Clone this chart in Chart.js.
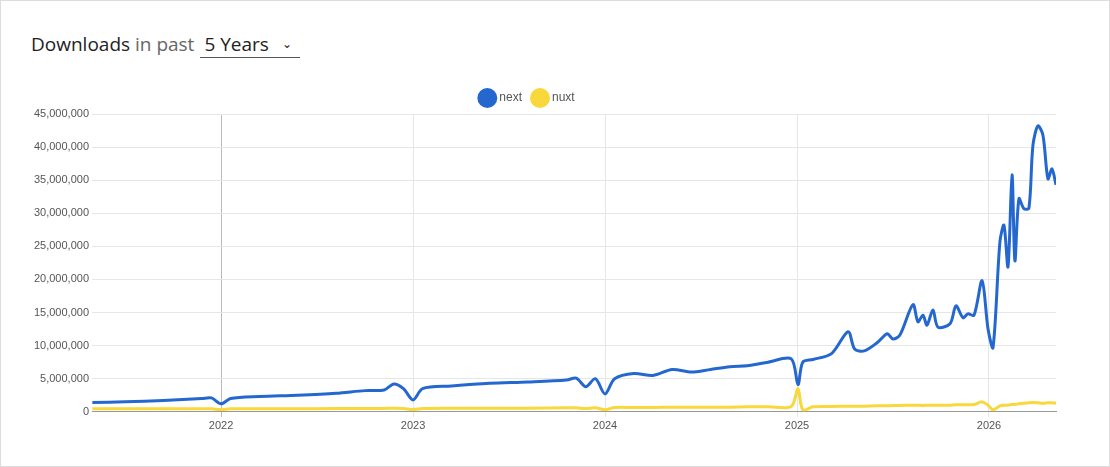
<!DOCTYPE html>
<html><head><meta charset="utf-8">
<script src="https://cdn.jsdelivr.net/npm/chart.js@4"></script>
<style>
body{margin:0;background:#fff;font-family:"Segoe UI","Open Sans",sans-serif;}
#frame{position:absolute;left:0;top:0;width:1108px;height:465px;border:1px solid #ddd;}
#title{position:absolute;left:31px;top:31px;font-size:19px;color:#222;}
#title .muted{color:#666;}
#sel{display:inline-block;margin-left:6px;width:96px;border-bottom:1px solid #555;padding-left:4px;}
#sel span{float:right;font-size:12px;margin-right:8px;margin-top:4px;}
#wrap{position:absolute;left:0;top:80px;width:1110px;height:362px;}
</style></head><body>
<div id="frame"></div>
<div id="title">Downloads <span class="muted">in past</span><span id="sel">5 Years<span>&#8964;</span></span></div>
<div id="wrap"><canvas id="c"></canvas></div>
<script>
const xYears = [2021.33,2021.5,2021.7,2021.9,2021.95,2022.0,2022.05,2022.2,2022.4,2022.6,
 2022.75,2022.85,2022.9,2022.95,2023.0,2023.05,2023.2,2023.4,2023.6,2023.8,
 2023.85,2023.9,2023.95,2024.0,2024.05,2024.15,2024.25,2024.35,2024.45,2024.55,
 2024.65,2024.75,2024.85,2024.97,2025.005,2025.03,2025.083,2025.18,2025.266,2025.3,
 2025.35,2025.42,2025.47,2025.5,2025.536,2025.604,2025.63,2025.656,2025.677,2025.708,
 2025.734,2025.797,2025.828,2025.865,2025.89,2025.922,2025.964,2025.995,2026.021,2026.057,
 2026.078,2026.099,2026.12,2026.135,2026.156,2026.182,2026.208,2026.229,2026.255,2026.281,
 2026.307,2026.328,2026.349];
const nextM = [1.4,1.5,1.7,2.0,2.1,1.2,2.0,2.3,2.5,2.8,
 3.2,3.3,4.2,3.5,1.8,3.5,3.9,4.3,4.5,4.8,
 5.1,3.8,5.0,2.7,5.0,5.8,5.5,6.4,6.0,6.4,
 6.8,7.0,7.5,8.0,4.1,7.5,7.9,8.8,12.1,9.5,
 9.2,10.5,11.8,11.0,11.6,16.2,13.6,14.6,13.1,15.4,
 12.8,13.3,16.0,14.2,14.8,14.6,19.8,12.5,9.7,25.7,
 28.2,21.9,35.8,22.8,32.2,30.7,30.8,40.3,43.2,41.8,
 35.2,36.7,34.3];
const nuxtM = [0.45,0.45,0.45,0.45,0.45,0.35,0.45,0.45,0.45,0.5,
 0.5,0.5,0.55,0.5,0.35,0.5,0.55,0.55,0.55,0.6,
 0.6,0.5,0.6,0.3,0.65,0.65,0.65,0.7,0.7,0.7,
 0.7,0.75,0.75,0.8,3.5,0.3,0.75,0.8,0.85,0.85,
 0.85,0.9,0.9,0.95,0.95,1.0,1.0,0.95,1.0,1.0,
 1.0,1.0,1.05,1.05,1.05,1.1,1.5,1.0,0.3,0.9,
 1.0,1.0,1.1,1.1,1.2,1.3,1.35,1.4,1.35,1.3,
 1.35,1.35,1.3];
const pts = a => xYears.map((x,i)=>({x, y:a[i]*1e6}));
const yearTicks = [2022,2023,2024,2025,2026];
new Chart(document.getElementById('c'),{
 type:'line',
 data:{datasets:[
  {label:'next',data:pts(nextM),borderColor:'#2468cf',backgroundColor:'#2468cf',borderWidth:3,pointRadius:0,tension:0.3},
  {label:'nuxt',data:pts(nuxtM),borderColor:'#f8d83a',backgroundColor:'#f8d83a',borderWidth:3,pointRadius:0,tension:0.3}
 ]},
 options:{responsive:true,maintainAspectRatio:false,animation:false,
  layout:{padding:{right:54,top:0,bottom:6}},
  plugins:{tooltip:{enabled:false},
   legend:{labels:{usePointStyle:true,pointStyle:'circle',boxWidth:16,boxHeight:16,color:'#555',font:{family:'Liberation Sans',size:12},padding:12}}},
  scales:{
   x:{type:'linear',min:2021.328,max:2026.349,
    afterBuildTicks:s=>{s.ticks=yearTicks.map(v=>({value:v}));},
    ticks:{callback:v=>String(v),color:'#555',font:{family:'Liberation Sans',size:11}},
    grid:{color:c=>c.tick&&c.tick.value===2022?'#bbb':'#e6e6e6',drawTicks:true,tickLength:5},border:{color:'#999'}},
   y:{min:0,max:45000000,afterFit:s=>{s.width=92;},
    ticks:{stepSize:5000000,callback:v=>v.toLocaleString('en-US'),color:'#555',font:{family:'Liberation Sans',size:11}},
    grid:{color:'#e6e6e6',drawTicks:false},border:{display:false}}
  }}
});
</script></body></html>
